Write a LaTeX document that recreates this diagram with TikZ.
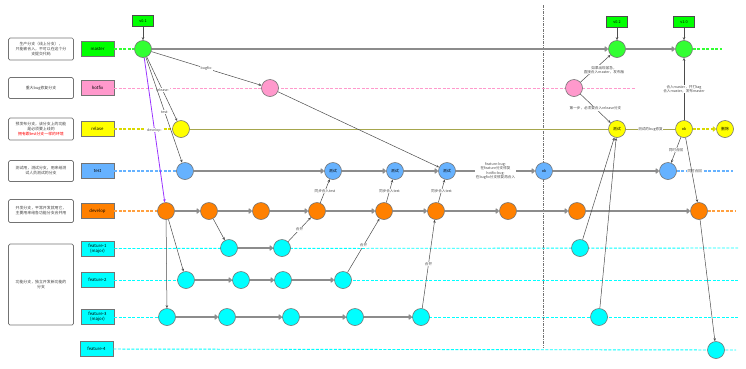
\documentclass[tikz,border=0pt]{standalone}
\usepackage{fontspec}
\setmainfont{Noto Sans CJK SC}
\usetikzlibrary{arrows.meta}

\definecolor{cmaster}{HTML}{33FF33}
\definecolor{ctag}{HTML}{00FF00}
\definecolor{chotfix}{HTML}{FF99CC}
\definecolor{crelase}{HTML}{FFFF00}
\definecolor{ctest}{HTML}{66B2FF}
\definecolor{cdevelop}{HTML}{FF8000}
\definecolor{cfeature}{HTML}{00FFFF}
\definecolor{colive}{HTML}{A6A64D}
\definecolor{cviolet}{HTML}{9933FF}

\tikzset{
  note/.style={draw=black!55, rounded corners=1.5pt, line width=0.7pt, minimum width=65pt,
    align=center, font=\fontsize{3.9}{5}\selectfont, text=black!75},
  branch/.style={draw=black!55, line width=0.7pt, minimum width=33pt, minimum height=15pt,
    inner sep=1pt, align=center, font=\fontsize{4.3}{5}\selectfont},
  commit/.style={circle, draw=black!55, line width=0.6pt, minimum size=17pt, inner sep=0pt,
    font=\fontsize{3.8}{4.5}\selectfont},
  tag/.style={draw=black!70, fill=ctag, line width=0.6pt, minimum width=21pt, minimum height=11pt,
    inner sep=0pt, font=\fontsize{3.8}{4.5}\selectfont},
  trunk/.style={draw=black!45, line width=1.3pt, -{Straight Barb[length=2.5pt,width=4.5pt]}},
  flow/.style={draw=black!70, line width=0.5pt, -{Stealth[length=3pt,width=2.5pt]}},
  lane/.style={line width=1.1pt, dash pattern=on 3pt off 1.5pt},
  lbl/.style={fill=white, inner sep=0.6pt, align=center, font=\fontsize{3.6}{4.3}\selectfont, text=black!70}
}

\begin{document}
\begin{tikzpicture}[x=1pt,y=-1pt]
\useasboundingbox (0,0) rectangle (746,368);

% notes on the left
\node[note, minimum height=22pt] (note-master) at (41,49) {生产分支（线上分支），\\只能被合入，不可以在这个分\\支提交代码};
\node[note, minimum height=21pt] (note-hotfix) at (41,88) {重大bug修复分支};
\node[note, minimum height=22pt] (note-relase) at (41,129) {预发布分支，该分支上的功能\\是必须要上线的\\\textcolor{red}{拥有跟test分支一样的环境}};
\node[note, minimum height=21pt] (note-test) at (41,171) {测试用，测试分支，用来给测\\试人员测试的分支};
\node[note, minimum height=23pt] (note-develop) at (41,211) {开发分支，平常开发就用它，\\主要用来给各功能分支合并用};
\node[note, minimum height=81pt] (note-feature) at (41,284.5) {功能分支，独立开发新功能的\\分支};

% branch names
\node[branch, fill=ctag] (master) at (97.5,49) {master};
\node[branch, fill=chotfix] (hotfix) at (97.5,88) {hotfix};
\node[branch, fill=crelase] (relase) at (97.5,129) {relase};
\node[branch, fill=ctest] (test) at (97.5,171) {test};
\node[branch, fill=cdevelop] (develop) at (97.5,211) {develop};
\node[branch, fill=cfeature] (feature-1) at (97.5,248.5) {feature-1\\(major)};
\node[branch, fill=cfeature] (feature-2) at (97.5,280) {feature-2};
\node[branch, fill=cfeature] (feature-3) at (97.5,317) {feature-3\\(major)};
\node[branch, fill=cfeature] (feature-4) at (96.5,349) {feature-4};

% lanes that run behind the commits
\coordinate (hotfix-end) at (635,88);
\coordinate (feature-1-end) at (738,248);
\coordinate (feature-2-end) at (738,280);
\coordinate (feature-3-end) at (738,317);
\coordinate (feature-4-end) at (736,350);
\draw[lane, chotfix, line width=0.8pt] (hotfix) -- (hotfix-end);
\draw[lane, cfeature, line width=0.9pt] (feature-1) -- (feature-1-end);
\draw[lane, cfeature, line width=0.9pt] (feature-2) -- (feature-2-end);
\draw[lane, cfeature, line width=0.9pt] (feature-3) -- (feature-3-end);
\draw[lane, cfeature, line width=0.9pt] (feature-4) -- (feature-4-end);

% release boundary
\coordinate (cut-top) at (543,5);
\coordinate (cut-bottom) at (543,348);
\draw[black!55, line width=0.6pt, dash pattern=on 3pt off 1.2pt on 0.6pt off 1.2pt] (cut-top) -- (cut-bottom);

% tags
\node[tag] (v01) at (143,21) {v0.1};
\node[tag] (v02) at (617,22) {v0.2};
\node[tag] (v10) at (684,22) {v1.0};

% commits
\node[commit, fill=cmaster] (mst1) at (143,49) {};
\node[commit, fill=cmaster] (mst2) at (617,49) {};
\node[commit, fill=cmaster] (mst3) at (684,49) {};

\node[commit, fill=chotfix] (hot1) at (270,88) {};
\node[commit, fill=chotfix] (hot2) at (574,88) {};

\node[commit, fill=crelase] (rel1) at (181,129) {};
\node[commit, fill=crelase] (rel2) at (617,129) {测试};
\node[commit, fill=crelase] (rel3) at (684,129) {ok};
\node[commit, fill=crelase] (rel4) at (725,129) {删除};

\node[commit, fill=ctest] (tst1) at (185,171) {};
\node[commit, fill=ctest] (tst2) at (333,171) {测试};
\node[commit, fill=ctest] (tst3) at (395,171) {测试};
\node[commit, fill=ctest] (tst4) at (447,171) {测试};
\node[commit, fill=ctest] (tst5) at (544,171) {ok};
\node[commit, fill=ctest] (tst6) at (668,171) {};

\node[commit, fill=cdevelop] (dev1) at (166,211) {};
\node[commit, fill=cdevelop] (dev2) at (209,211) {};
\node[commit, fill=cdevelop] (dev3) at (261,211) {};
\node[commit, fill=cdevelop] (dev4) at (317,211) {};
\node[commit, fill=cdevelop] (dev5) at (384,211) {};
\node[commit, fill=cdevelop] (dev6) at (436,211) {};
\node[commit, fill=cdevelop] (dev7) at (508,211) {};
\node[commit, fill=cdevelop] (dev8) at (577,211) {};
\node[commit, fill=cdevelop] (dev9) at (699,211) {};

\node[commit, fill=cfeature] (fa1) at (229,248) {};
\node[commit, fill=cfeature] (fa2) at (282,248) {};
\node[commit, fill=cfeature] (fa3) at (580,248) {};

\node[commit, fill=cfeature] (fb1) at (186,280) {};
\node[commit, fill=cfeature] (fb2) at (241,280) {};
\node[commit, fill=cfeature] (fb3) at (283,280) {};
\node[commit, fill=cfeature] (fb4) at (343,280) {};

\node[commit, fill=cfeature] (fc1) at (167,317) {};
\node[commit, fill=cfeature] (fc2) at (227,317) {};
\node[commit, fill=cfeature] (fc3) at (291,317) {};
\node[commit, fill=cfeature] (fc4) at (355,317) {};
\node[commit, fill=cfeature] (fc5) at (421,317) {};
\node[commit, fill=cfeature] (fc6) at (599,317) {};

\node[commit, fill=cfeature] (fd1) at (716,350) {};

% lanes from the branch names and after the last commits
\coordinate (master-end) at (722,49);
\coordinate (test-end) at (733,171);
\coordinate (develop-end) at (735,211);
\draw[lane, cmaster] (master) -- (mst1);
\draw[lane, cmaster] (mst3) -- (master-end);
\draw[lane, crelase!85!black] (relase) -- (rel1);
\draw[lane, ctest] (test) -- (tst1);
\draw[lane, ctest] (tst6) -- (test-end) node[lbl, pos=0.32, fill=white]{同时合回};
\draw[lane, cdevelop!75] (develop) -- (dev1);
\draw[lane, cdevelop!75] (dev9) -- (develop-end);

% trunks
\draw[trunk] (mst1) -- (mst2);
\draw[trunk] (mst2) -- (mst3);
\draw[colive, line width=1pt] (rel1) -- (rel2);
\draw[colive, line width=1pt] (rel2) -- (rel3) node[lbl, midway]{测试的bug修复};
\draw[lane, crelase!85!black, -{Straight Barb[length=2.5pt,width=4.5pt]}] (rel3) -- (rel4);
\draw[trunk] (tst1) -- (tst2);
\draw[trunk] (tst2) -- (tst3);
\draw[trunk] (tst3) -- (tst4);
\draw[trunk] (tst4) -- (tst5) node[lbl, midway]{feature-bug:\\在feature分支修复\\hotfix-bug:\\在bugfix分支修复再合入};
\draw[trunk] (tst5) -- (tst6);
\draw[trunk] (dev1) -- (dev2);
\draw[trunk] (dev2) -- (dev3);
\draw[trunk] (dev3) -- (dev4);
\draw[trunk] (dev4) -- (dev5);
\draw[trunk] (dev5) -- (dev6);
\draw[trunk] (dev6) -- (dev7);
\draw[trunk] (dev7) -- (dev8);
\draw[trunk] (dev8) -- (dev9);
\draw[trunk] (fa1) -- (fa2);
\draw[trunk] (fb1) -- (fb2);
\draw[trunk] (fb2) -- (fb3);
\draw[trunk] (fb3) -- (fb4);
\draw[trunk] (fc1) -- (fc2);
\draw[trunk] (fc2) -- (fc3);
\draw[trunk] (fc3) -- (fc4);
\draw[trunk] (fc4) -- (fc5);

% tags
\draw[flow] (v01) -- (mst1);
\draw[flow] (v02) -- (mst2);
\draw[flow] (v10) -- (mst3);

% branching off master
\draw[flow] (mst1) -- (hot1) node[lbl, pos=0.5]{bugfix-};
\draw[flow] (mst1) -- (rel1) node[lbl, pos=0.52]{release-};
\draw[flow] (mst1) -- (tst1) node[lbl, pos=0.52]{test-};
\draw[flow, cviolet, line width=0.8pt] (mst1) -- (dev1) node[lbl, pos=0.5]{develop-};
\draw[flow] (hot1) -- (tst4);

% features
\draw[flow] (dev1) -- (fb1);
\draw[flow] (dev1) -- (fc1);
\draw[flow] (dev2) -- (fa1);
\draw[flow] (fa2) -- (dev4) node[lbl, midway]{合并};
\draw[flow] (fb4) -- (dev5) node[lbl, midway]{合并};
\draw[flow] (fc5) -- (dev6) node[lbl, midway]{合并};
\draw[flow] (dev4) -- (tst2) node[lbl, midway]{同步合入test};
\draw[flow] (dev5) -- (tst3) node[lbl, midway]{同步合入test};
\draw[flow] (dev6) -- (tst4) node[lbl, midway]{同步合入test};

% release
\draw[flow] (hot2) -- (mst2) node[lbl, pos=0.45, xshift=10pt]{如果出现紧急，\\直接合入master，发布版};
\draw[flow] (hot2) -- (rel2) node[lbl, midway]{第一步，必须要合入release分支};
\draw[flow] (fa3) -- (rel2);
\draw[flow] (fc6) -- (rel2);
\draw[flow] (rel3) -- (mst3) node[lbl, midway]{合入master，并打tag\\合入master，发布master};
\draw[flow] (rel3) -- (tst6) node[lbl, midway]{同时合回};
\draw[flow] (rel3) -- (dev9);
\draw[flow] (dev9) -- (fd1);
\end{tikzpicture}
\end{document}
